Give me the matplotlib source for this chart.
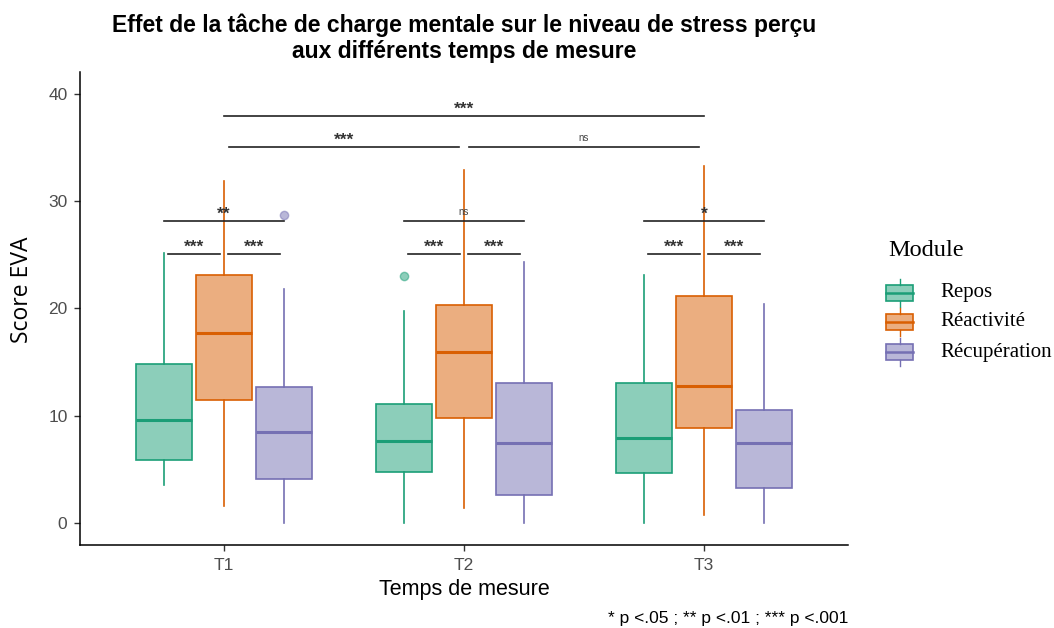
import matplotlib
matplotlib.use("Agg")
import matplotlib.pyplot as plt
from matplotlib.patches import Rectangle
from matplotlib.lines import Line2D

# ---- data ----
times = ["T1", "T2", "T3"]
modules = ["Repos", "Réactivité", "Récupération"]
colors = ["#1B9E77", "#D95F02", "#7570B3"]

whislo = {"Repos": [3.5, 0.0, 0.0], "Réactivité": [1.6, 1.4, 0.75], "Récupération": [0.0, 0.0, 0.0]}
q1 = {"Repos": [5.9, 4.8, 4.7], "Réactivité": [11.5, 9.8, 8.9], "Récupération": [4.1, 2.6, 3.3]}
med = {"Repos": [9.6, 7.6, 7.9], "Réactivité": [17.7, 15.9, 12.8], "Récupération": [8.5, 7.5, 7.5]}
q3 = {"Repos": [14.8, 11.1, 13.05], "Réactivité": [23.1, 20.3, 21.2], "Récupération": [12.7, 13.05, 10.5]}
whishi = {"Repos": [25.2, 19.8, 23.1], "Réactivité": [31.9, 32.9, 33.3], "Récupération": [21.8, 24.3, 20.4]}
fliers = {"Repos": [[], [23.0], []], "Réactivité": [[], [], []], "Récupération": [[28.7], [], []]}

# within-time comparisons: Repos-Réact, Réact-Récup, Repos-Récup
within_labels = [["***", "***", "**"], ["***", "***", "ns"], ["***", "***", "*"]]
# between-time comparisons on Réactivité
between = [(0, 1, "***", 35.05), (1, 2, "ns", 35.05), (0, 2, "***", 37.95)]
within_y_low = 25.1
within_y_high = 28.2

yticks = [0, 10, 20, 30, 40]

# ---- figure ----
W, H = 1054, 628
fig = plt.figure(figsize=(W / 100, H / 100), dpi=100)
ax = fig.add_axes([80 / W, 1 - 545 / H, (848 - 80) / W, (545 - 72) / H])

dodge = 0.25
width = 0.23
for j, m in enumerate(modules):
    stats = []
    for i in range(3):
        stats.append(dict(whislo=whislo[m][i], q1=q1[m][i], med=med[m][i],
                          q3=q3[m][i], whishi=whishi[m][i], fliers=fliers[m][i]))
    pos = [i + 1 + (j - 1) * dodge for i in range(3)]
    c = colors[j]
    ax.bxp(stats, positions=pos, widths=width, patch_artist=True, showcaps=False,
           boxprops=dict(facecolor=matplotlib.colors.to_rgba(c, 0.5), edgecolor=c, linewidth=1.2),
           medianprops=dict(color=c, linewidth=2.2),
           whiskerprops=dict(color=c, linewidth=1.2),
           flierprops=dict(marker="o", markerfacecolor=matplotlib.colors.to_rgba(c, 0.5),
                           markeredgecolor=matplotlib.colors.to_rgba(c, 0.5), markersize=6),
           zorder=2)

def star_text(x, y, s):
    if s == "ns":
        ax.text(x, y + 0.35, s, ha="center", va="bottom", fontsize=7, color="#444444",
                family="Liberation Sans")
    else:
        ax.text(x, y - 0.1, s, ha="center", va="bottom", fontsize=12.5, color="#333333",
                fontweight="bold", family="Liberation Sans")

for i in range(3):
    c0 = i + 1
    ax.plot([c0 - dodge + 0.015, c0 - 0.015], [within_y_low] * 2, color="#222222", lw=1.2, zorder=3)
    star_text(c0 - dodge / 2, within_y_low, within_labels[i][0])
    ax.plot([c0 + 0.015, c0 + dodge - 0.015], [within_y_low] * 2, color="#222222", lw=1.2, zorder=3)
    star_text(c0 + dodge / 2, within_y_low, within_labels[i][1])
    ax.plot([c0 - dodge, c0 + dodge], [within_y_high] * 2, color="#222222", lw=1.2, zorder=3)
    star_text(c0, within_y_high, within_labels[i][2])

for a, b, lab, yy in between:
    shrink = 0.02 if b - a == 1 else 0.0
    ax.plot([a + 1 + shrink, b + 1 - shrink], [yy] * 2, color="#222222", lw=1.2, zorder=3)
    star_text((a + b) / 2 + 1, yy, lab)

ax.set_xlim(0.4, 3.6)
ax.set_ylim(-2.05, 42.05)
ax.set_xticks([1, 2, 3])
ax.set_xticklabels(times)
ax.set_yticks(yticks)
for s in ["top", "right"]:
    ax.spines[s].set_visible(False)
for s in ["left", "bottom"]:
    ax.spines[s].set_linewidth(1.1)
ax.tick_params(axis="both", colors="#333333", labelcolor="#4D4D4D", labelsize=12.5, length=4,
               width=1.0)
ax.tick_params(axis="y", pad=5)
ax.tick_params(axis="x", pad=5)
for lab in ax.get_xticklabels() + ax.get_yticklabels():
    lab.set_family("Liberation Sans")

ax.set_xlabel("Temps de mesure", fontsize=15.5, family="Liberation Sans", labelpad=5)
fig.text(22 / W, 1 - 290 / H, "Score EVA", rotation=90, ha="center", va="center",
         fontsize=16.5, family="Open Sans")

fig.text(464 / W, 1 - 38 / H, "Effet de la tâche de charge mentale sur le niveau de stress perçu\naux différents temps de mesure",
         ha="center", va="center", fontsize=16.5, fontweight="bold", family="Liberation Sans",
         linespacing=1.15)
fig.text(848 / W, 1 - 619 / H, "* p <.05 ; ** p <.01 ; *** p <.001", ha="right", va="center",
         fontsize=12.5, family="Liberation Sans")

# ---- legend (drawn manually to mimic ggplot keys) ----
lax = fig.add_axes([0, 0, 1, 1], facecolor="none")
lax.set_xlim(0, W)
lax.set_ylim(H, 0)
lax.axis("off")
lax.text(888, 251, "Module", fontsize=17.5, family="Liberation Serif", va="center", ha="left")
ys = [293, 322, 352]
for j, m in enumerate(modules):
    c = colors[j]
    y = ys[j]
    lax.add_patch(Rectangle((886, y - 8), 27, 16, facecolor=matplotlib.colors.to_rgba(c, 0.5),
                            edgecolor=c, lw=1.2))
    lax.add_line(Line2D([886, 913], [y, y], color=c, lw=1.8))
    lax.add_line(Line2D([899.5, 899.5], [y - 14, y - 8], color=c, lw=1.0))
    lax.add_line(Line2D([899.5, 899.5], [y + 8, y + 14], color=c, lw=1.0))
    lax.text(940, y, m, fontsize=15, family="Liberation Serif", va="center", ha="left")

fig.savefig("out.png", dpi=100)
